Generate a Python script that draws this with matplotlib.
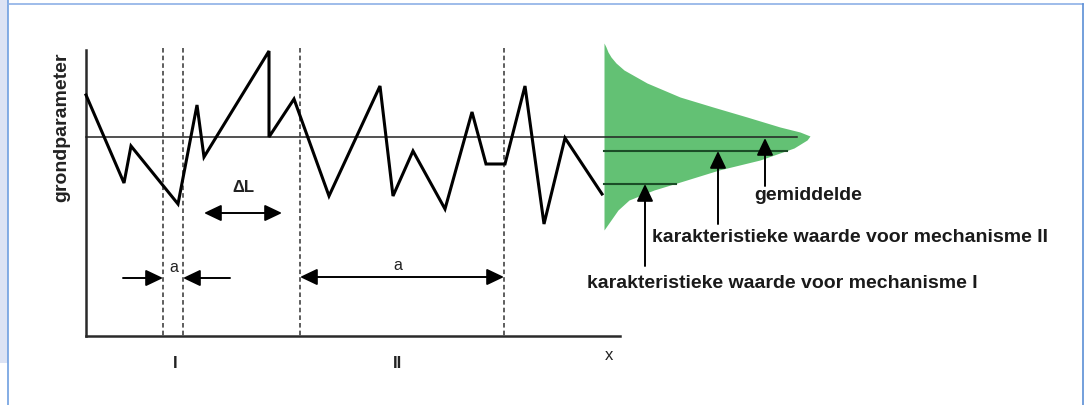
import matplotlib.pyplot as plt
from matplotlib.patches import Rectangle

# all positions in picture units (x to the right, y downward)
zigzag_x = [86, 124, 131, 178, 197, 204, 269, 269, 294, 329, 380, 393, 413, 445,
            472, 486, 505, 525, 544, 565, 602]
zigzag_y = [95, 183, 146, 204, 105, 157, 51, 137, 99, 196, 86, 196, 151, 209,
            112, 164, 164, 86, 224, 138, 194]

dashed_x = [163, 183, 300, 504]
mean_y = 137

# rotated distribution (height = level, width = density)
dist_left = 604
dist_y = [43, 47, 52, 57, 63, 70, 83, 97, 107, 117, 127, 132, 136, 140, 148, 160,
          170, 183, 190, 200, 210, 220, 230]
dist_w = [0, 2, 4, 7, 12, 20, 43, 76, 109, 143, 176, 196, 206, 203, 190, 156,
          115, 73, 50, 25, 14, 7, 0]

# levels: mean, characteristic II, characteristic I
level_y = [138, 151, 184]
level_end = [797, 787, 676]
marker_x = [765, 718, 645]
marker_bottom = [186, 224, 266]
marker_labels = ["gemiddelde",
                 "karakteristieke waarde voor mechanisme II",
                 "karakteristieke waarde voor mechanisme I"]
label_pos = [(754, 196), (652, 237), (587, 283)]

fig = plt.figure(figsize=(10.88, 4.05), dpi=100)
ax = fig.add_axes([0, 0, 1, 1])
ax.set_xlim(0, 1088)
ax.set_ylim(405, 0)
ax.axis("off")

# frame of the page
ax.add_patch(Rectangle((0, 0), 8, 363, facecolor="#dce3f4", edgecolor="none"))
ax.plot([8, 8], [0, 405], color="#6f9fe0", lw=1.2)
ax.plot([8, 1083], [3.5, 3.5], color="#8db0e6", lw=1.2)
ax.plot([1083, 1083], [3.5, 405], color="#5b8fd6", lw=1.2)

# distribution
ax.fill_betweenx(dist_y, dist_left, [dist_left + w for w in dist_w],
                 color="#63c174", lw=0)

# axes of the diagram
ax.plot([86, 86], [50, 336], color="#2a2a2a", lw=1.8)
ax.plot([86, 620], [336, 336], color="#2a2a2a", lw=1.8)

# mean line and level lines
ax.plot([86, level_end[0]], [mean_y, mean_y], color="#222222", lw=1.1)
ax.plot([dist_left, level_end[1]], [level_y[1]] * 2, color="#1b4d27", lw=1.5)
ax.plot([dist_left, level_end[2]], [level_y[2]] * 2, color="#1b4d27", lw=1.5)

# dashed separators
for x in dashed_x:
    ax.plot([x, x], [48, 336], color="#333333", lw=1.1, dashes=(3, 2))

# signal
ax.plot(zigzag_x, zigzag_y, color="black", lw=2.2, solid_joinstyle="miter")

arrow_style = dict(arrowstyle="-|>,head_length=1.05,head_width=0.5",
                   color="black", lw=1.4, shrinkA=0, shrinkB=0)
double_style = dict(arrowstyle="<|-|>,head_length=1.05,head_width=0.5",
                    color="black", lw=1.4, shrinkA=0, shrinkB=0)

# marker arrows
for x, tip, bottom in zip(marker_x, level_y, marker_bottom):
    ax.annotate("", xy=(x, tip), xytext=(x, bottom), arrowprops=arrow_style)
for text, (tx, ty) in zip(marker_labels, label_pos):
    ax.text(tx, ty, text, ha="left", va="center", fontsize=14,
            fontweight="bold", family="Liberation Sans", color="#1a1a1a")

# delta L
ax.annotate("", xy=(204, 213), xytext=(282, 213), arrowprops=double_style)
ax.text(243, 188, "\u0394L", ha="center", va="center", fontsize=12,
        family="Liberation Sans", fontweight="bold", color="#222222")

# distance a, mechanism I
ax.annotate("", xy=(163, 278), xytext=(123, 278), arrowprops=arrow_style)
ax.annotate("", xy=(183, 278), xytext=(230, 278), arrowprops=arrow_style)
ax.text(174, 267, "a", ha="center", va="center", fontsize=11.5,
        family="Liberation Sans", color="#222222")

# distance a, mechanism II
ax.annotate("", xy=(300, 277), xytext=(504, 277), arrowprops=double_style)
ax.text(398, 266, "a", ha="center", va="center", fontsize=11.5,
        family="Liberation Sans", color="#222222")

# axis labels
ax.text(62, 127, "grondparameter", rotation=90, ha="center", va="center",
        fontsize=14, fontweight="bold", family="Liberation Sans",
        color="#222222")
ax.text(175, 363, "I", ha="center", va="center", fontsize=12,
        fontweight="bold", family="Liberation Sans", color="#222222")
ax.text(397, 364, "II", ha="center", va="center", fontsize=12,
        fontweight="bold", family="Liberation Sans", color="#222222")
ax.text(609, 355, "x", ha="center", va="center", fontsize=12,
        family="Liberation Sans", color="#222222")

fig.savefig("out.png", dpi=100)
